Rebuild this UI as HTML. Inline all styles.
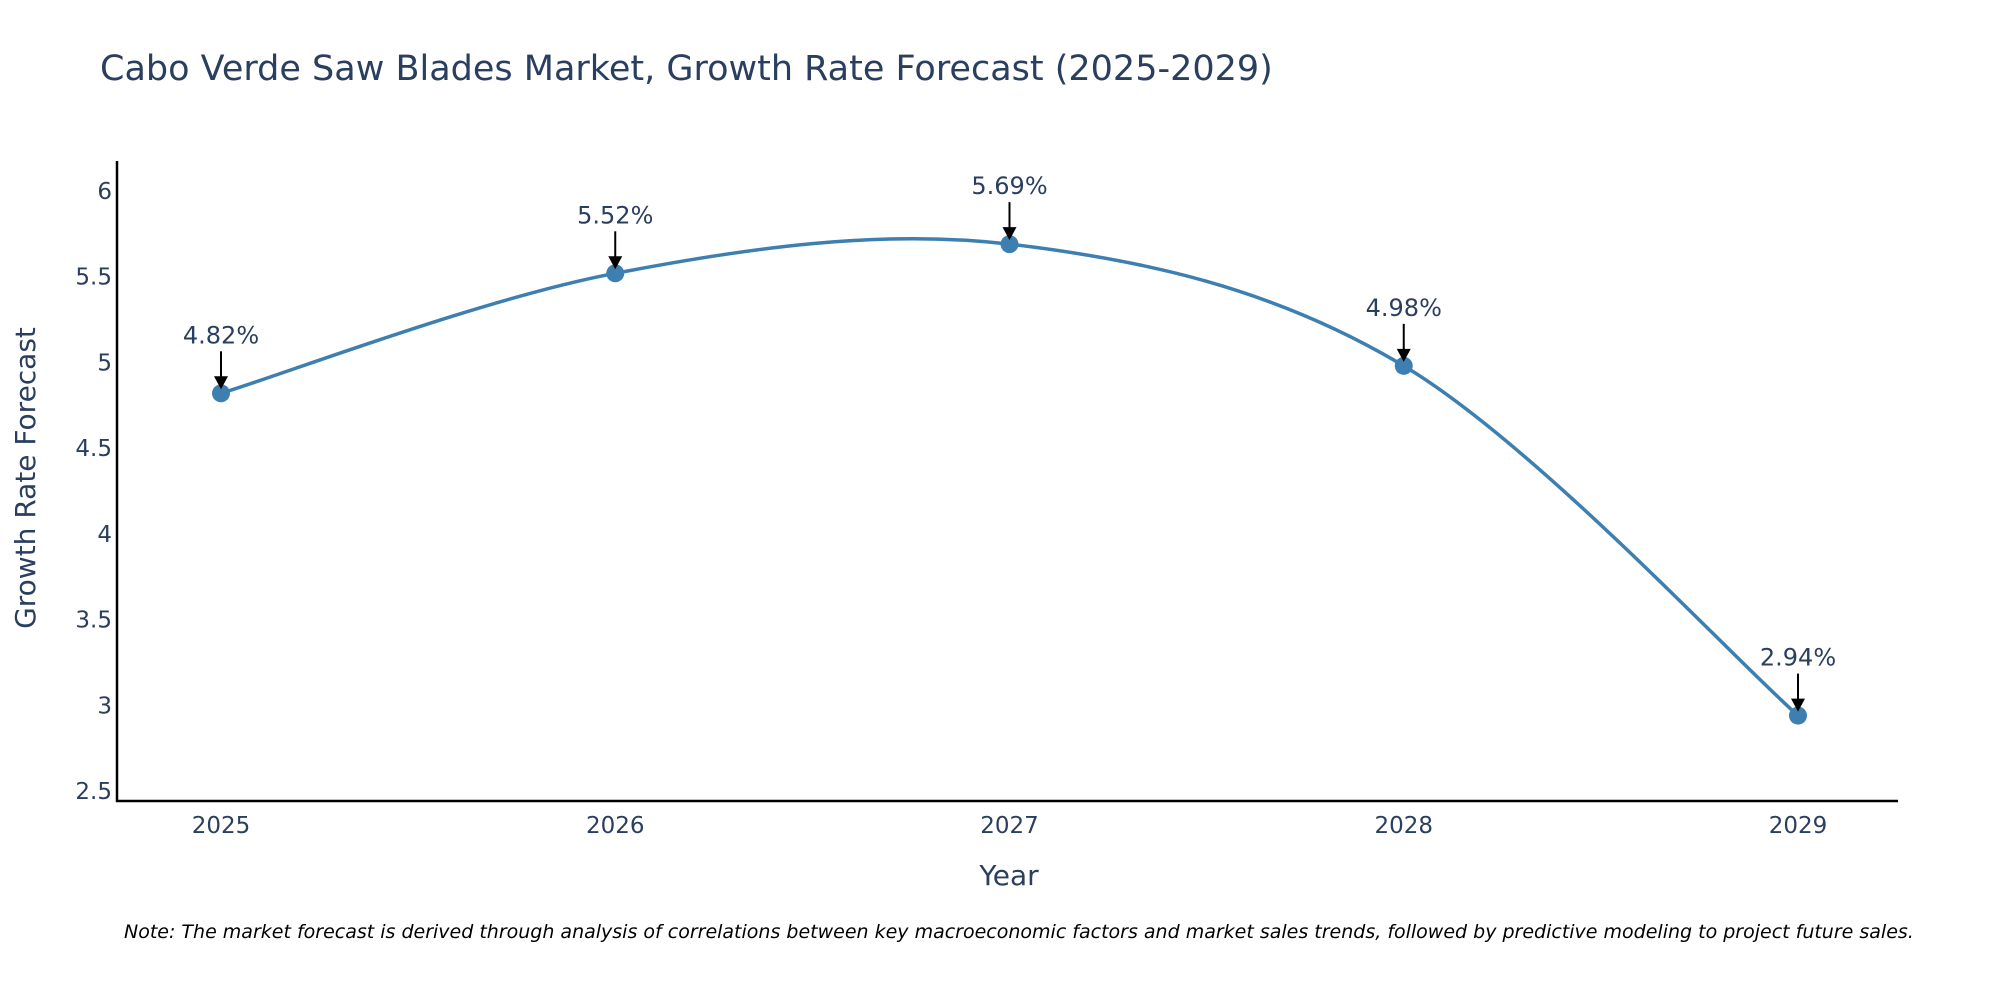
<!DOCTYPE html>
<html><head><meta charset="utf-8"><style>
html,body{margin:0;padding:0;background:#fff;}
svg{display:block;font-family:"DejaVu Sans","Liberation Sans",sans-serif;}
</style></head><body>
<svg id="chart" width="2000" height="1000" viewBox="0 0 2000 1000">
<text x="100" y="80" font-size="35" fill="#2a3f5f">Cabo Verde Saw Blades Market, Growth Rate Forecast (2025-2029)</text>
<g id="yticks"></g>
<g id="xticks"></g>
<line x1="117" y1="161" x2="117" y2="802" stroke="#000" stroke-width="2.5"/>
<line x1="116" y1="801" x2="1898" y2="801" stroke="#000" stroke-width="2.5"/>
<path id="line" fill="none" stroke="#3d7fb0" stroke-width="3.5"/>
<g id="points"></g>
<g id="annots"></g>
<text x="1009" y="885" font-size="28" fill="#2a3f5f" text-anchor="middle">Year</text>
<text transform="translate(35,478) rotate(-90)" font-size="28" fill="#2a3f5f" text-anchor="middle">Growth Rate Forecast</text>
<text x="124" y="938" font-size="19" font-style="italic" fill="#000">Note: The market forecast is derived through analysis of correlations between key macroeconomic factors and market sales trends, followed by predictive modeling to project future sales.</text>
</svg>
<script>
const years = [2025, 2026, 2027, 2028, 2029];
const values = [4.82, 5.52, 5.69, 4.98, 2.94];
const labels = ["4.82%", "5.52%", "5.69%", "4.98%", "2.94%"];
const yTicks = [2.5, 3, 3.5, 4, 4.5, 5, 5.5, 6];
const yTickLabels = ["2.5", "3", "3.5", "4", "4.5", "5", "5.5", "6"];

const NS = "http://www.w3.org/2000/svg";
const xS = v => 221 + (v - 2025) * 394.25;
const yS = v => 191 + (6 - v) * 171.43;
function mk(tag, attrs, parent){const e=document.createElementNS(NS,tag);for(const k in attrs)e.setAttribute(k,attrs[k]);parent.appendChild(e);return e;}

const yt = document.getElementById('yticks');
yTicks.forEach((t,i)=>{
  const e = mk('text',{x:112,y:yS(t)+8,'font-size':23,fill:'#2a3f5f','text-anchor':'end'},yt);
  
  
  e.textContent = yTickLabels[i];
});
const xt = document.getElementById('xticks');
years.forEach(y=>{
  const e = mk('text',{x:xS(y),y:833,'font-size':23,fill:'#2a3f5f','text-anchor':'middle'},xt);
  
  
  e.textContent = String(y);
});

const pts = years.map((y,i)=>[xS(y), yS(values[i])]);
let d = `M${pts[0][0]},${pts[0][1]}`;
const s = 1/6;
for(let i=0;i<pts.length-1;i++){
  const p0=pts[Math.max(0,i-1)], p1=pts[i], p2=pts[i+1], p3=pts[Math.min(pts.length-1,i+2)];
  const c1=[p1[0]+(p2[0]-p0[0])*s, p1[1]+(p2[1]-p0[1])*s];
  const c2=[p2[0]-(p3[0]-p1[0])*s, p2[1]-(p3[1]-p1[1])*s];
  d += ` C${c1[0]},${c1[1]} ${c2[0]},${c2[1]} ${p2[0]},${p2[1]}`;
}
document.getElementById('line').setAttribute('d', d);

const pg = document.getElementById('points');
const ag = document.getElementById('annots');
pts.forEach((p,i)=>{
  const c = mk('circle',{cx:p[0],cy:p[1],r:9,fill:'#3d7fb0'},pg);
  
  
  const l = mk('line',{x1:p[0],y1:p[1]-42,x2:p[0],y2:p[1]-14,stroke:'#000','stroke-width':2},ag);
  
  
  const h = mk('polygon',{points:`${p[0]-7},${p[1]-17} ${p[0]+7},${p[1]-17} ${p[0]},${p[1]-4}`,fill:'#000'},ag);
  
  
  const t = mk('text',{x:p[0],y:p[1]-50,'font-size':24,fill:'#2a3f5f','text-anchor':'middle'},ag);
  
  
  t.textContent = labels[i];
});
</script>
</body></html>
